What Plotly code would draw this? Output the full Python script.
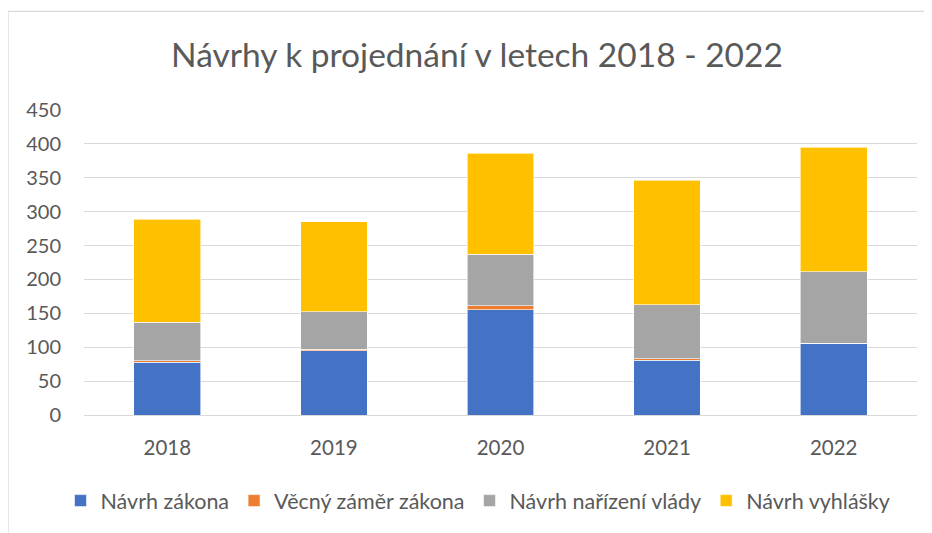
import plotly.graph_objects as go

years = ["2018", "2019", "2020", "2021", "2022"]
navrh_zakona = [78, 95, 155, 81, 106]
vecny_zamer = [2, 2, 6, 2, 0]
narizeni_vlady = [57, 55, 76, 80, 105]
vyhlasky = [152, 133, 149, 183, 184]

series_names = ["Návrh zákona", "Věcný záměr zákona", "Návrh nařízení vlády", "Návrh vyhlášky"]
series_values = [navrh_zakona, vecny_zamer, narizeni_vlady, vyhlasky]
colors = ["#4472C4", "#ED7D31", "#A5A5A5", "#FFC000"]
y_ticks = [0, 50, 100, 150, 200, 250, 300, 350, 400, 450]

FONT = "Lato"
TXT = "#595959"

fig = go.Figure()
for name, vals, col in zip(series_names, series_values, colors):
    fig.add_trace(go.Bar(
        x=years, y=vals, name=name,
        marker=dict(color=col, line=dict(color="white", width=0.6)),
    ))

# page body adds an 8px offset; coordinates below are in figure space
W, H = 924, 525
L, T = 76, 102.3
plot_right, plot_bottom = 909, 409.3
R, B = W - plot_right, H - plot_bottom
pw, ph = plot_right - L, plot_bottom - T

fig.update_layout(
    width=W, height=H,
    barmode="stack", bargap=0.6,
    plot_bgcolor="white", paper_bgcolor="white",
    margin=dict(l=L, r=R, t=T, b=B, pad=0),
    font=dict(family=FONT, color=TXT, size=20),
    title=dict(text="Návrhy k projednání v letech 2018 - 2022",
               x=(469 - L) / pw, xref="paper", xanchor="center",
               y=1 - 47 / H, yref="container", yanchor="middle",
               font=dict(family=FONT, size=33.5, color=TXT)),
    showlegend=True,
    legend=dict(orientation="h", x=(470 - L) / pw, xanchor="center",
                y=(plot_bottom - 495.5) / ph, yanchor="middle",
                font=dict(family=FONT, size=21.5, color=TXT),
                traceorder="normal", itemwidth=30, bgcolor="rgba(0,0,0,0)"),
    xaxis=dict(showgrid=False, showline=False, ticks="", ticklabelstandoff=18,
               tickfont=dict(family=FONT, size=20.5, color=TXT)),
    yaxis=dict(range=[0, 450], tickvals=y_ticks, showgrid=True,
               gridcolor="#D9D9D9", gridwidth=1.3, zeroline=True,
               zerolinecolor="#D9D9D9", zerolinewidth=1.3, showline=False,
               ticks="", ticklabelstandoff=22,
               tickfont=dict(family=FONT, size=20, color=TXT)),
)

fig.add_shape(type="rect", xref="paper", yref="paper",
              x0=(0 - L) / pw, x1=(940 - L) / pw,
              y0=(plot_bottom - 545) / ph, y1=(plot_bottom - 3) / ph,
              line=dict(color="#D9D9D9", width=1.2), fillcolor="rgba(0,0,0,0)",
              layer="below")

fig.write_html("out.html")
